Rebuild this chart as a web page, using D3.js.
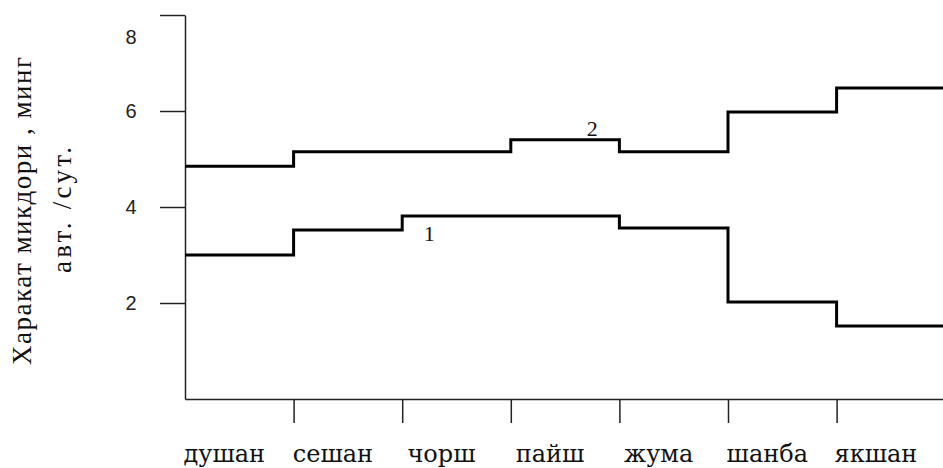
<!DOCTYPE html>
<html>
<head>
<meta charset="utf-8">
<script src="https://cdn.jsdelivr.net/npm/d3@7"></script>
<style>
  body { margin: 0; background: #fff; }
  svg { display: block; }
</style>
</head>
<body>
<svg id="chart" width="943" height="468"></svg>
<script>
const days = ['душан', 'сешан', 'чорш', 'пайш', 'жума', 'шанба', 'якшан'];
const series1 = [3.0, 3.52, 3.81, 3.81, 3.56, 2.02, 1.52];
const series2 = [4.85, 5.15, 5.15, 5.4, 5.15, 5.98, 6.48];
const yTicks = [2, 4, 6, 8];
const seriesLabels = [
  {text: '1', day: 2.25, value: 3.45},
  {text: '2', day: 3.75, value: 5.65}
];

const svg = d3.select('#chart');
const marginLeft = 185, axisBottomY = 399, axisTopY = 15;

const x = d3.scaleLinear().domain([0, days.length]).range([marginLeft, marginLeft + days.length * 108.6]);
const y = d3.scaleLinear().domain([0, 8]).range([axisBottomY, axisTopY]);

// step needs an extra point at the end of the last day
const toPoints = vals => vals.map((v, i) => [i, v]).concat([[vals.length, vals[vals.length - 1]]]);

const line = d3.line()
  .x(d => x(d[0]))
  .y(d => y(d[1]))
  .curve(d3.curveStepAfter);

svg.append('g')
  .attr('transform', `translate(${marginLeft},0)`)
  .call(d3.axisLeft(y).tickValues(yTicks).tickSize(25).tickSizeOuter(0).tickFormat(''))
  .call(g => g.selectAll('path, line').attr('stroke', '#222').attr('stroke-width', 1.5));

svg.append('g')
  .selectAll('text')
  .data(yTicks)
  .join('text')
    .attr('x', 131)
    .attr('y', d => y(d) + (d === 8 ? 22 : 0))
    .attr('dy', '0.35em')
    .attr('text-anchor', 'middle')
    .attr('font-family', 'Liberation Sans, sans-serif')
    .attr('font-size', 20)
    .attr('fill', '#222')
    .text(d => d);

svg.append('g')
  .attr('transform', `translate(0,${axisBottomY})`)
  .call(d3.axisBottom(x).tickValues(d3.range(1, days.length)).tickSize(24).tickSizeOuter(0).tickFormat(''))
  .call(g => g.selectAll('path, line').attr('stroke', '#222').attr('stroke-width', 1.5));

svg.append('g')
  .selectAll('text')
  .data(days)
  .join('text')
    .attr('x', (d, i) => x(i + 0.5) - 15)
    .attr('y', 462)
    .attr('text-anchor', 'middle')
    .attr('font-family', 'DejaVu Serif, serif')
    .attr('font-size', 24)
    .attr('fill', '#111')
    .text(d => d);

[series1, series2].forEach(vals => {
  svg.append('path')
    .attr('fill', 'none')
    .attr('stroke', '#000')
    .attr('stroke-width', 3)
    .attr('d', line(toPoints(vals)));
});

svg.append('g')
  .selectAll('text')
  .data(seriesLabels)
  .join('text')
    .attr('x', d => x(d.day))
    .attr('y', d => y(d.value))
    .attr('dy', '0.35em')
    .attr('text-anchor', 'middle')
    .attr('font-family', 'Liberation Serif, serif')
    .attr('font-size', 22)
    .attr('fill', '#111')
    .text(d => d.text);

const title = svg.append('g')
  .attr('font-family', 'Liberation Serif, serif')
  .attr('font-size', 27)
  .attr('fill', '#111')
  .attr('text-anchor', 'middle');

title.append('text')
  .attr('transform', 'translate(31,211) rotate(-90)')
  .attr('textLength', 308)
  .text('Харакат  микдори , минг');

title.append('text')
  .attr('transform', 'translate(71,210) rotate(-90)')
  .attr('textLength', 126)
  .text('авт. /сут.');
</script>
</body>
</html>
